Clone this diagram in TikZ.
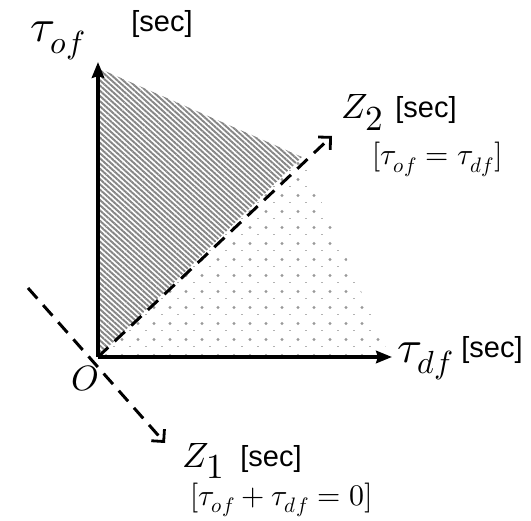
\documentclass[tikz,border=0pt]{standalone}
\usepackage{fontspec}
\usepackage{unicode-math}
\setmathfont{Latin Modern Math}
\setsansfont{Liberation Sans}
\usetikzlibrary{arrows.meta,patterns.meta}

\tikzset{
  axis/.style={line width=2.2pt, -{Stealth[length=9pt,width=7pt,inset=1pt]}},
  zaxis/.style={line width=1.7pt, dash pattern=on 8pt off 5pt,
    -{Straight Barb[length=5pt,width=10pt,line width=1.6pt]}},
  biglbl/.style={inner sep=0pt, anchor=base west, font=\fontsize{26}{30}\selectfont},
  zlbl/.style={inner sep=0pt, anchor=base west, font=\fontsize{20}{24}\selectfont},
  eqlbl/.style={inner sep=0pt, anchor=base west, font=\fontsize{17}{20}\selectfont},
  unitlbl/.style={inner sep=0pt, anchor=base west, font=\sffamily\fontsize{16.5}{19}\selectfont},
}

\begin{document}
\begin{tikzpicture}
	\useasboundingbox (-1.96,-3.28) rectangle (8.66,7.14);

	\coordinate (O) at (0,0);
	\coordinate (tofend) at (0,5.9);
	\coordinate (tdfend) at (5.88,0);
	\coordinate (htop) at (0,5.78);
	\coordinate (hmid) at (4.08,4.0);
	\coordinate (dright) at (5.84,0);
	\coordinate (z2end) at (4.68,4.42);
	\coordinate (z1start) at (-1.4,1.38);
	\coordinate (z1end) at (1.34,-1.72);

	% hatched region
	\fill[pattern={Lines[angle=-42,distance=2.2pt,line width=1.1pt]}, pattern color=gray!95]
		(O) -- (htop) -- (hmid) -- cycle;

	% dotted region
	\begin{scope}
		\clip (O) -- (hmid) -- (dright) -- cycle;
		\foreach \i in {0,...,19} {
			\foreach \j in {0,...,13} {
				\fill[gray!80] (0.32*\i+0.16, 0.32*\j+0.03) circle (0.9pt);
				\fill[gray!60] (0.32*\i-0.02, 0.32*\j+0.19) rectangle ++(0.04,0.02);
			}
		}
	\end{scope}

	% axes
	\draw[axis] (O) -- (tofend);
	\draw[axis] (O) -- (tdfend);
	\draw[zaxis] (O) -- (z2end);
	\draw[zaxis] (z1start) -- (z1end);

	% labels
	\node[biglbl] (tof) at (-1.36,6.3) {$\tau_{of}$};
	\node[unitlbl] (tofu) at (0.66,6.5) {[sec]};
	\node[biglbl] (tdf) at (5.98,-0.1) {$\tau_{df}$};
	\node[unitlbl] (tdfu) at (7.26,-0.02) {[sec]};
	\node[zlbl] (o) at (-0.54,-0.66) {$O$};
	\node[zlbl] (z2) at (4.86,4.76) {$Z_{\textstyle 2}$};
	\node[unitlbl] (z2u) at (5.94,4.78) {[sec]};
	\node[eqlbl] (z2eq) at (5.48,3.84) {$[\tau_{of} = \tau_{df}]$};
	\node[zlbl] (z1) at (1.68,-2.2) {$Z_{\textstyle 1}$};
	\node[unitlbl] (z1u) at (2.84,-2.18) {[sec]};
	\node[eqlbl] (z1eq) at (1.84,-2.96) {$[\tau_{of} + \tau_{df} = 0]$};
\end{tikzpicture}
\end{document}
